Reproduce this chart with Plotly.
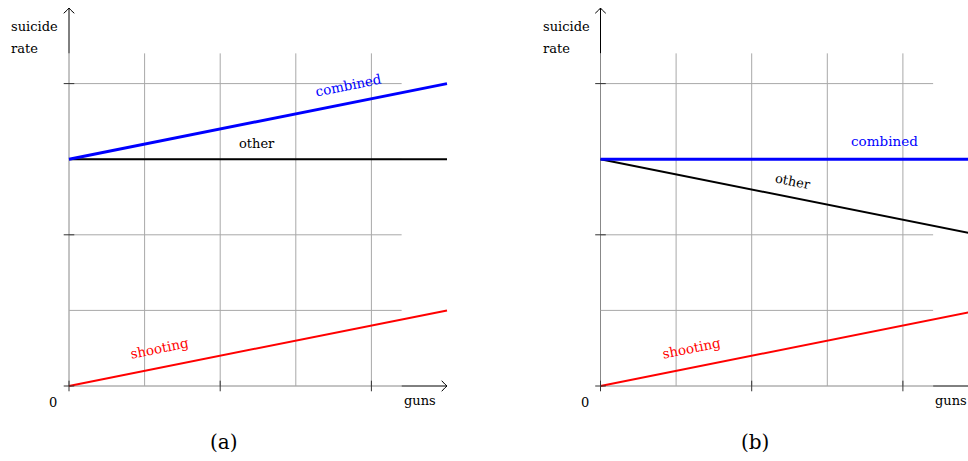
import plotly.graph_objects as go

# ---- data ----
guns = [0, 5]
panels = ["(a)", "(b)"]
shooting_a = [0, 1]
other_a = [3, 3]
combined_a = [3, 4]
shooting_b = [0, 1]
other_b = [3, 2]
combined_b = [3, 3]
grid_ticks = [0, 1, 2, 3, 4]
axis_ticks = [0, 2, 4]

W, H = 968, 461
U = 75.6            # pixels per unit
OX_A, OX_B, OY = 69, 600.5, 386

FONT = "DejaVu Serif"
GRIDC = "#a8a8a8"
GMAX = 4.4
AMAX = 5.0

fig = go.Figure()

series = [
    ("x", shooting_a, other_a, combined_a),
    ("x2", shooting_b, other_b, combined_b),
]
for xr, sh, ot, co in series:
    fig.add_trace(go.Scatter(x=guns, y=sh, mode="lines", xaxis=xr, yaxis="y",
                             line=dict(color="#ff0000", width=2), showlegend=False, hoverinfo="skip"))
    fig.add_trace(go.Scatter(x=guns, y=ot, mode="lines", xaxis=xr, yaxis="y",
                             line=dict(color="#000000", width=2), showlegend=False, hoverinfo="skip"))
    fig.add_trace(go.Scatter(x=guns, y=co, mode="lines", xaxis=xr, yaxis="y",
                             line=dict(color="#0000ff", width=3), showlegend=False, hoverinfo="skip"))

shapes = []
for xr in ["x", "x2"]:
    # axes: black arrow parts
    shapes.append(dict(type="line", xref=xr, yref="y", x0=GMAX, x1=AMAX, y0=0, y1=0,
                       line=dict(color="black", width=1)))
    shapes.append(dict(type="line", xref=xr, yref="y", x0=0, x1=0, y0=GMAX, y1=AMAX,
                       line=dict(color="black", width=1)))
    # arrowheads
    a = 0.07
    shapes.append(dict(type="path", xref=xr, yref="y",
                       path=f"M {AMAX-a},{a} Q {AMAX-a*0.3},{a*0.2} {AMAX},0 Q {AMAX-a*0.3},{-a*0.2} {AMAX-a},{-a}",
                       line=dict(color="black", width=1)))
    shapes.append(dict(type="path", xref=xr, yref="y",
                       path=f"M {-a},{AMAX-a} Q {-a*0.2},{AMAX-a*0.3} 0,{AMAX} Q {a*0.2},{AMAX-a*0.3} {a},{AMAX-a}",
                       line=dict(color="black", width=1)))
    # grid
    for g in grid_ticks:
        shapes.append(dict(type="line", xref=xr, yref="y", x0=g, x1=g, y0=0, y1=GMAX,
                           line=dict(color=GRIDC if g else "#888888", width=1), layer="below"))
        shapes.append(dict(type="line", xref=xr, yref="y", x0=0, x1=GMAX, y0=g, y1=g,
                           line=dict(color=GRIDC if g else "#888888", width=1), layer="below"))
    # ticks
    t = 0.07
    for tk in axis_ticks:
        shapes.append(dict(type="line", xref=xr, yref="y", x0=tk, x1=tk, y0=-t, y1=t,
                           line=dict(color="#333333", width=1)))
        shapes.append(dict(type="line", xref=xr, yref="y", x0=-t, x1=t, y0=tk, y1=tk,
                           line=dict(color="#333333", width=1)))

ang = 11.31
ann = []
def txt(xr, x, y, s, color="black", size=13, angle=0, xanchor="center"):
    ann.append(dict(xref=xr, yref="y", x=x, y=y, text=s, showarrow=False, textangle=angle,
                    xanchor=xanchor, yanchor="middle",
                    font=dict(family=FONT, size=size, color=color)))

for xr in ["x", "x2"]:
    txt(xr, -0.21, -0.22, "0")
    txt(xr, 4.64, -0.19, "guns")
    txt(xr, -0.79, 4.76, "suicide", xanchor="left")
    txt(xr, -0.79, 4.46, "rate", xanchor="left")

txt("x", 3.70, 3.98, "combined", "#0000ff", size=13.5, angle=-ang)
txt("x", 2.49, 3.21, "other")
txt("x", 1.20, 0.50, "shooting", "#ff0000", size=13.5, angle=-ang)
txt("x2", 3.75, 3.24, "combined", "#0000ff", size=13.5)
txt("x2", 2.55, 2.71, "other", angle=ang)
txt("x2", 1.20, 0.50, "shooting", "#ff0000", size=13.5, angle=-ang)

txt("x", (224 - OX_A) / U, (OY - 442) / U, panels[0], size=20)
txt("x2", (755 - OX_B) / U, (OY - 442) / U, panels[1], size=20)

fig.update_layout(
    width=W, height=H, margin=dict(l=0, r=0, t=0, b=0),
    paper_bgcolor="white", plot_bgcolor="white",
    shapes=shapes, annotations=ann,
    xaxis=dict(domain=[0, 0.5], range=[-OX_A / U, (W / 2 - OX_A) / U], visible=False, fixedrange=True),
    xaxis2=dict(domain=[0.5, 1], range=[-(OX_B - W / 2) / U, (W - OX_B) / U], visible=False,
                anchor="y", fixedrange=True),
    yaxis=dict(domain=[0, 1], range=[-(H - OY) / U, OY / U], visible=False, fixedrange=True),
)
fig.write_html("out.html", config={"displayModeBar": False},
               post_script="document.body.style.margin='0';document.body.style.overflow='hidden';")
